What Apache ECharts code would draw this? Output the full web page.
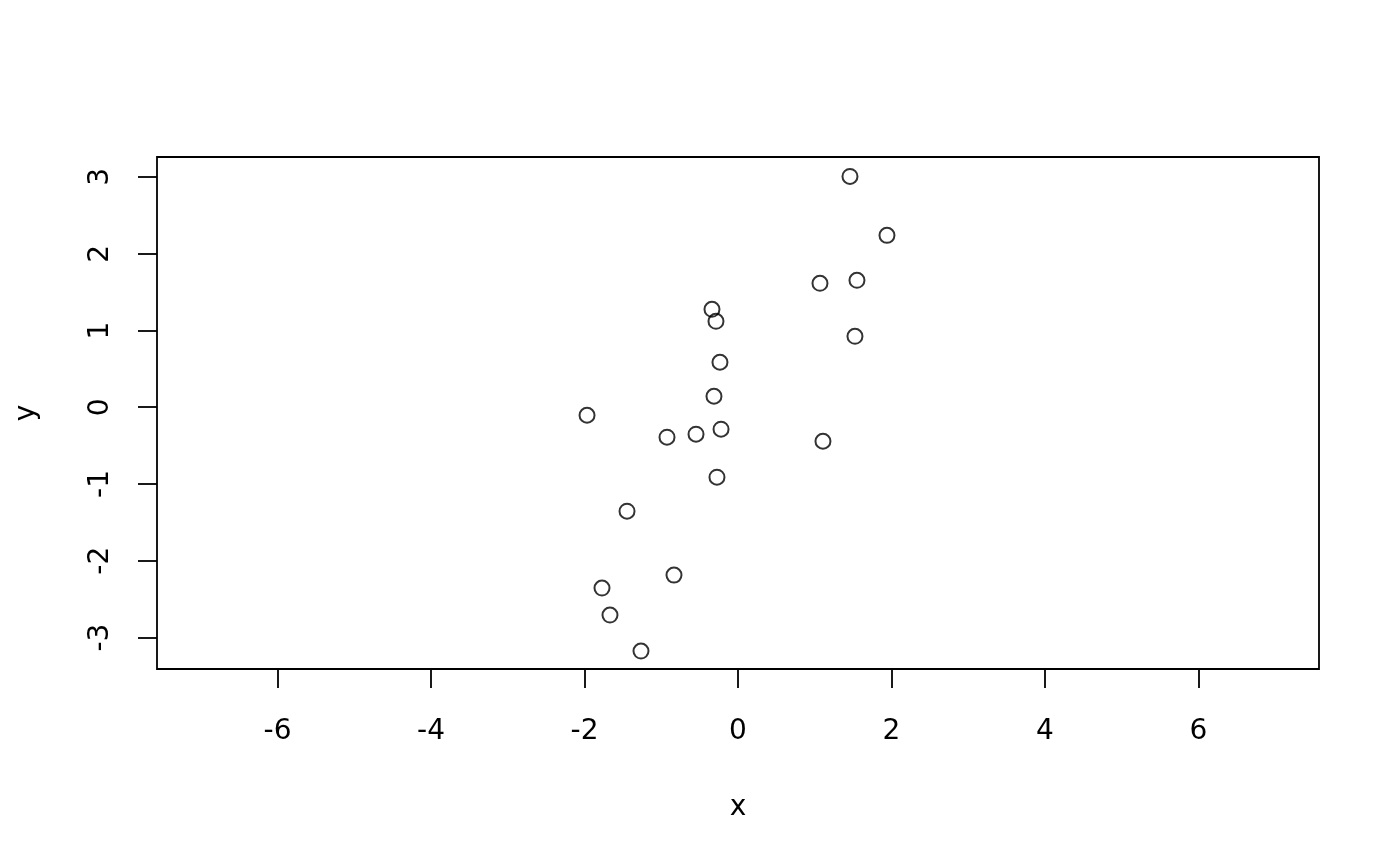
<!DOCTYPE html>
<html>
<head>
<meta charset="utf-8">
<script src="https://cdn.jsdelivr.net/npm/echarts@6/dist/echarts.min.js"></script>
<style>html,body{margin:0;padding:0;background:#fff}#c{width:1400px;height:866px}</style>
</head>
<body>
<div id="c"></div>
<script>
var xValues = [1.459, 1.941, 1.068, 1.550, -0.339, -0.287, 1.524, -0.235, -1.967, -0.313, -0.925, -0.547, -0.221, 1.107, -0.274, -1.446, -0.834, -1.772, -1.668, -1.264];
var yValues = [3.007, 2.239, 1.614, 1.653, 1.276, 1.119, 0.924, 0.586, -0.104, 0.143, -0.390, -0.351, -0.286, -0.443, -0.911, -1.354, -2.187, -2.356, -2.707, -3.176];
var xTicks = [-6, -4, -2, 0, 2, 4, 6];
var yTicks = [-3, -2, -1, 0, 1, 2, 3];

var points = xValues.map(function (x, i) { return [x, yValues[i]]; });
var font = 'DejaVu Sans';
var chart = echarts.init(document.getElementById('c'), null, {renderer: 'canvas'});
chart.setOption({
  animation: false,
  backgroundColor: '#fff',
  grid: {left: 157, top: 157, right: 81, bottom: 197, show: true, borderColor: '#000', borderWidth: 1.8, backgroundColor: 'transparent'},
  xAxis: {
    type: 'value', min: -7.57, max: 7.57,
    name: 'x', nameLocation: 'middle', nameGap: 125,
    nameTextStyle: {color: '#000', fontSize: 28, fontFamily: font},
    axisLine: {show: false, onZero: false},
    splitLine: {show: false},
    axisTick: {show: true, customValues: xTicks, length: 19, inside: false, lineStyle: {color: '#000', width: 1.8}},
    axisLabel: {customValues: xTicks, color: '#000', fontSize: 28, fontFamily: font, margin: 49}
  },
  yAxis: {
    type: 'value', min: -3.41, max: 3.26,
    name: 'y', nameLocation: 'middle', nameGap: 116, nameRotate: 90,
    nameTextStyle: {color: '#000', fontSize: 28, fontFamily: font},
    axisLine: {show: false, onZero: false},
    splitLine: {show: false},
    axisTick: {show: true, customValues: yTicks, length: 19, inside: false, lineStyle: {color: '#000', width: 1.8}},
    axisLabel: {customValues: yTicks, color: '#000', fontSize: 28, fontFamily: font, margin: 42, rotate: 90}
  },
  series: [{
    type: 'scatter',
    data: points,
    symbol: 'circle',
    symbolSize: 15,
    itemStyle: {color: 'transparent', borderColor: '#000', borderWidth: 2},
    emphasis: {disabled: true}
  }]
});
</script>
</body>
</html>
